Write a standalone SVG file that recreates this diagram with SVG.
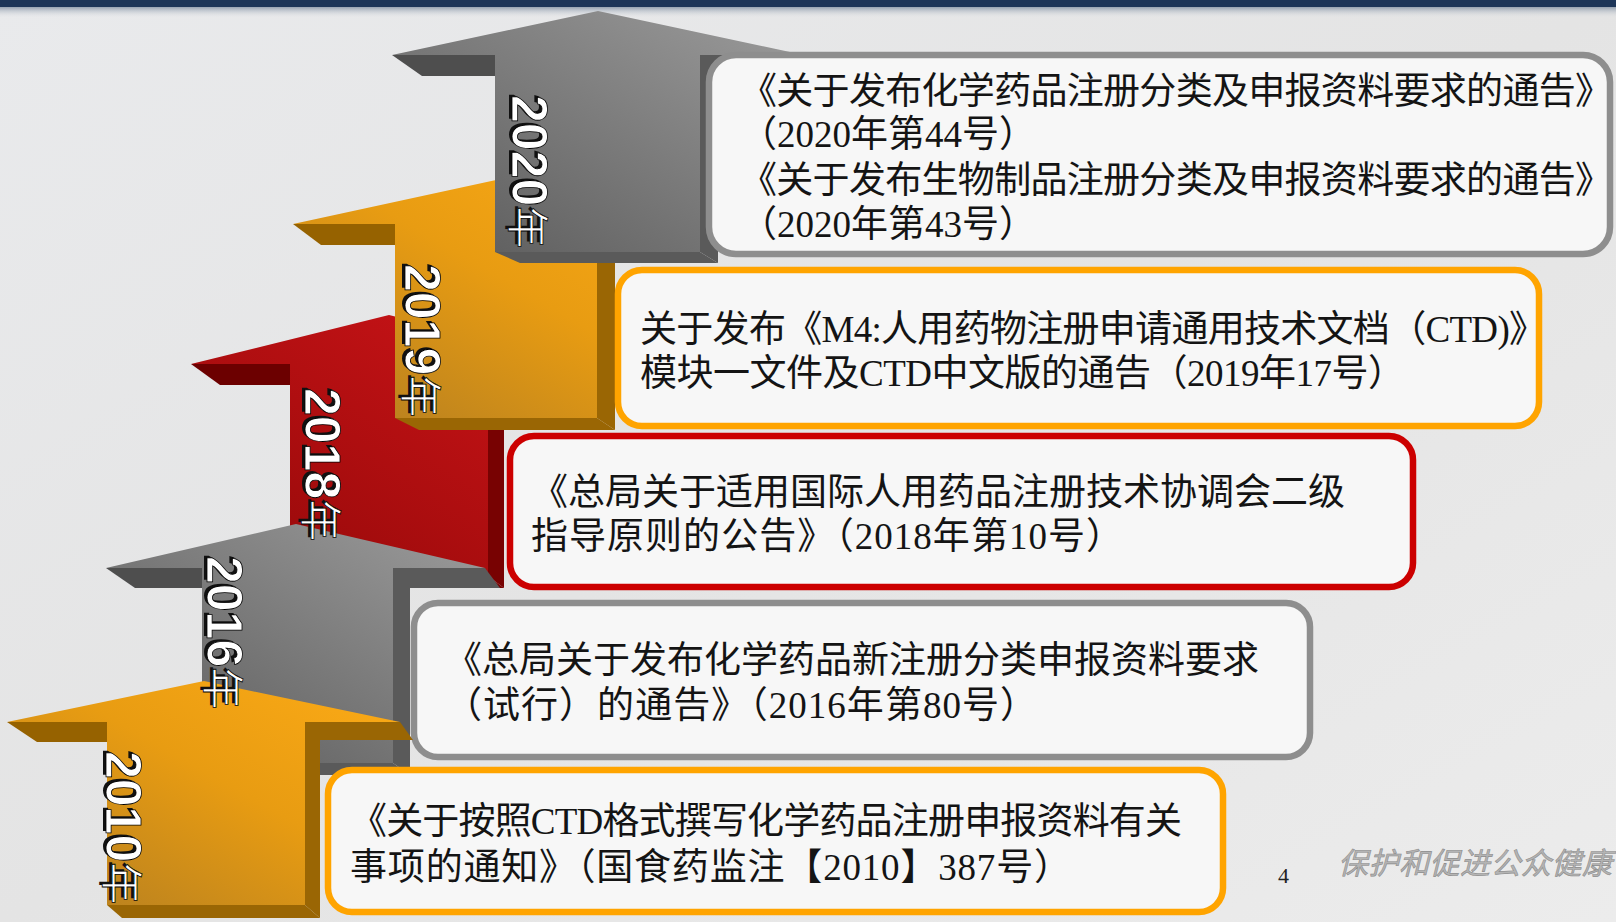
<svg xmlns="http://www.w3.org/2000/svg" width="1616" height="922" viewBox="0 0 1616 922">
<defs>
<linearGradient id="bg" x1="0" y1="0" x2="1" y2="1">
<stop offset="0" stop-color="#e9eaec"/>
<stop offset="0.5" stop-color="#e4e4e4"/>
<stop offset="1" stop-color="#ececec"/>
</linearGradient>
<linearGradient id="topShade" x1="0" y1="0" x2="0" y2="1">
<stop offset="0" stop-color="#6f8096" stop-opacity="0.8"/>
<stop offset="1" stop-color="#e6e8ea" stop-opacity="0"/>
</linearGradient>
<linearGradient id="gGray" x1="0" y1="1" x2="1" y2="0">
<stop offset="0" stop-color="#595959"/>
<stop offset="1" stop-color="#9c9c9c"/>
</linearGradient>
<linearGradient id="gOrange" x1="0" y1="1" x2="1" y2="0">
<stop offset="0" stop-color="#b07c22"/>
<stop offset="0.55" stop-color="#e89c12"/>
<stop offset="1" stop-color="#fdab16"/>
</linearGradient>
<linearGradient id="gRed" x1="0" y1="1" x2="1" y2="0">
<stop offset="0" stop-color="#920808"/>
<stop offset="1" stop-color="#cf1519"/>
</linearGradient>
<style>
.gray .front{fill:url(#gGray)}
.gray .wing{fill:#4e4e4e}
.gray .side{fill:#5a5a5a}
.orange .front{fill:url(#gOrange)}
.orange .wing{fill:#966200}
.orange .side{fill:#9a6604}
.red .front{fill:url(#gRed)}
.red .wing{fill:#6c0000}
.red .side{fill:#780202}
.box{fill:#f7f7f7;stroke-width:6.5}
.bGray{stroke:#8e8e8e}
.bOrange{stroke:#ffa400}
.bRed{stroke:#cc0000}
.txt{font-family:"Liberation Serif","Noto Sans CJK SC",serif;font-size:37px;fill:#141414}
.yr{font-family:"Liberation Sans",Arial,sans-serif;font-weight:bold;font-size:50px;fill:#ffffff;stroke:#000;stroke-width:0.8}
.yrs{font-family:"Liberation Sans",Arial,sans-serif;font-weight:bold;font-size:50px;fill:#111}
.nian{font-family:"Noto Sans CJK SC",sans-serif;font-weight:normal;font-size:42px}
</style>
</defs>

<rect x="0" y="0" width="1616" height="922" fill="url(#bg)"/>
<rect x="0" y="6" width="1616" height="12" fill="url(#topShade)"/>
<rect x="0" y="0" width="1616" height="7" fill="#1d3558"/>

<!-- 2018 arrow -->
<g id="arrow-2018" class="red">
<polygon class="wing" points="191,364 290,364 290,385 220,385"/>
<polygon class="side" points="488,364 587,364 600,383 504,383 504,588 488,576"/>
<polygon class="side" points="290,576 488,576 504,588 313,588"/>
<polygon class="front" points="191,364 389,315 587,364 488,364 488,576 290,576 290,364"/>
</g>

<!-- 2019 arrow -->
<g id="arrow-2019" class="orange">
<polygon class="wing" points="293,224 395,224 395,245 321,245"/>
<polygon class="side" points="597,224 700,224 713,243 615,243 615,430 597,418"/>
<polygon class="side" points="395,418 597,418 615,430 419,430"/>
<polygon class="front" points="293,224 496,180 700,224 597,224 597,418 395,418 395,224"/>
</g>

<!-- 2020 arrow -->
<g id="arrow-2020" class="gray">
<polygon class="wing" points="392,55 495,55 495,76 422,76"/>
<polygon class="side" points="700,55 804,55 817,74 718,74 718,263 700,252"/>
<polygon class="side" points="495,252 700,252 718,263 520,263"/>
<polygon class="front" points="392,55 598,11 804,55 700,55 700,252 495,252 495,55"/>
</g>

<!-- boxes -->
<g id="box-2020">
<rect class="box bGray" x="709" y="55" width="901" height="199" rx="27"/>
<text class="txt" x="740" y="104" textLength="872">《关于发布化学药品注册分类及申报资料要求的通告》</text>
<text class="txt" x="740" y="147" textLength="296">（2020年第44号）</text>
<text class="txt" x="740" y="193" textLength="872">《关于发布生物制品注册分类及申报资料要求的通告》</text>
<text class="txt" x="740" y="237" textLength="296">（2020年第43号）</text>
</g>

<g id="box-2019">
<rect class="box bOrange" x="618" y="270" width="921" height="156" rx="24"/>
<text class="txt" x="640" y="342" textLength="906">关于发布《M4:人用药物注册申请通用技术文档（CTD)》</text>
<text class="txt" x="640" y="386" textLength="765">模块一文件及CTD中文版的通告（2019年17号）</text>
</g>

<g id="box-2018">
<rect class="box bRed" x="510" y="436" width="903" height="151" rx="24"/>
<text class="txt" x="531" y="505" textLength="814">《总局关于适用国际人用药品注册技术协调会二级</text>
<text class="txt" x="531" y="549" textLength="592">指导原则的公告》（2018年第10号）</text>
</g>

<g id="box-2016">
<rect class="box bGray" x="414" y="603" width="896" height="154" rx="24"/>
<text class="txt" x="445" y="673" textLength="814">《总局关于发布化学药品新注册分类申报资料要求</text>
<text class="txt" x="445" y="718" textLength="592">（试行）的通告》（2016年第80号）</text>
</g>

<!-- 2016 arrow -->
<g id="arrow-2016" class="gray">
<polygon class="wing" points="106,568 202,568 202,588 135,588"/>
<polygon class="side" points="393,568 485,568 500,588 410,588 410,775 393,763"/>
<polygon class="side" points="202,763 393,763 410,775 220,775"/>
<polygon class="front" points="106,568 296,524 485,568 393,568 393,763 202,763 202,568"/>
</g>

<!-- 2010 arrow -->
<g id="arrow-2010" class="orange">
<polygon class="wing" points="7,722 107,722 107,742 37,742"/>
<polygon class="side" points="305,722 400,722 413,740 320,740 320,918 305,905"/>
<polygon class="side" points="107,905 305,905 320,918 122,918"/>
<polygon class="front" points="7,722 204,681 400,722 305,722 305,905 107,905 107,722"/>
</g>

<g id="box-2010">
<rect class="box bOrange" x="328" y="770" width="895" height="142" rx="24"/>
<text class="txt" x="350" y="834" textLength="832">《关于按照CTD格式撰写化学药品注册申报资料有关</text>
<text class="txt" x="350" y="880" textLength="721">事项的通知》（国食药监注【2010】387号）</text>
</g>

<!-- year labels -->
<g id="labels">
<g id="label-2020" transform="translate(512,95) rotate(90)">
<text class="yrs" x="-2" y="3">2020<tspan class="nian">年</tspan></text>
<text class="yr">2020<tspan class="nian">年</tspan></text>
</g>
<g id="label-2019" transform="translate(405,264) rotate(90)">
<text class="yrs" x="-2" y="3">2019<tspan class="nian">年</tspan></text>
<text class="yr">2019<tspan class="nian">年</tspan></text>
</g>
<g id="label-2018" transform="translate(305,388) rotate(90)">
<text class="yrs" x="-2" y="3">2018<tspan class="nian">年</tspan></text>
<text class="yr">2018<tspan class="nian">年</tspan></text>
</g>
<g id="label-2016" transform="translate(207,556) rotate(90)">
<text class="yrs" x="-2" y="3">2016<tspan class="nian">年</tspan></text>
<text class="yr">2016<tspan class="nian">年</tspan></text>
</g>
<g id="label-2010" transform="translate(106,751) rotate(90)">
<text class="yrs" x="-2" y="3">2010<tspan class="nian">年</tspan></text>
<text class="yr">2010<tspan class="nian">年</tspan></text>
</g>
</g>

<g id="footer">
<text x="1278" y="883" font-family="Liberation Serif, serif" font-size="22" fill="#222">4</text>
<text x="1338" y="874" font-family="Noto Sans CJK SC, sans-serif" font-size="30" font-style="italic" letter-spacing="0.5" fill="#b4b4b4" stroke="#8c8c8c" stroke-width="0.6">保护和促进公众健康</text>
</g>
</svg>
